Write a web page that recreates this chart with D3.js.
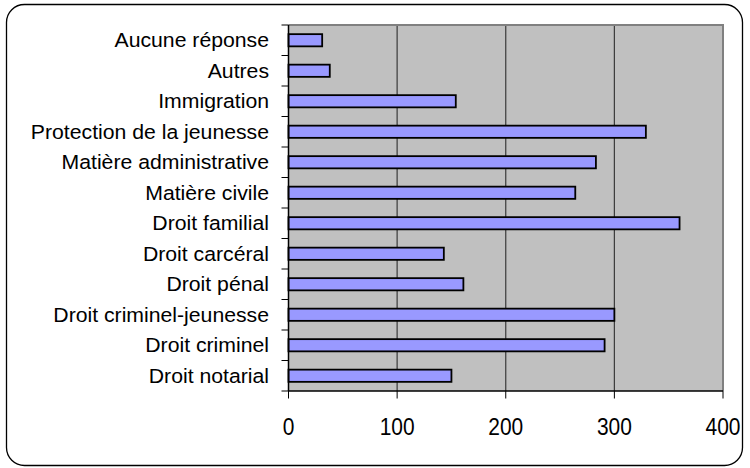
<!DOCTYPE html>
<html>
<head>
<meta charset="utf-8">
<script src="https://cdn.jsdelivr.net/npm/d3@7"></script>
<style>
  html, body { margin: 0; padding: 0; background: #ffffff; }
  svg { display: block; }
  text { font-family: "Liberation Sans", Arial, sans-serif; fill: #000; }
</style>
</head>
<body>
<svg id="chart" width="750" height="468"></svg>
<script>
// Data (top to bottom as drawn)
const categories = [
  "Aucune réponse",
  "Autres",
  "Immigration",
  "Protection de la jeunesse",
  "Matière administrative",
  "Matière civile",
  "Droit familial",
  "Droit carcéral",
  "Droit pénal",
  "Droit criminel-jeunesse",
  "Droit criminel",
  "Droit notarial"
];
const values = [31, 38, 154, 329, 283, 264, 360, 143, 161, 300, 291, 150];
const tickValues = [0, 100, 200, 300, 400];

const svg = d3.select("#chart");

// Outer rounded frame
svg.append("rect")
  .attr("x", 6.5).attr("y", 4.5)
  .attr("width", 736).attr("height", 461)
  .attr("rx", 18).attr("ry", 18)
  .attr("fill", "#fff")
  .attr("stroke", "#000")
  .attr("stroke-width", 1.3);

const plot = { left: 288.5, top: 25, right: 723, bottom: 391 };

const x = d3.scaleLinear()
  .domain([0, 400])
  .range([plot.left, plot.right]);

const y = d3.scaleBand()
  .domain(categories)
  .range([plot.top, plot.bottom])
  .paddingInner(0.6)
  .paddingOuter(0.3);

// Plot background
svg.append("rect")
  .attr("x", plot.left).attr("y", plot.top)
  .attr("width", plot.right - plot.left)
  .attr("height", plot.bottom - plot.top)
  .attr("fill", "#c0c0c0");

// Gridlines
svg.append("g")
  .selectAll("line")
  .data(tickValues.filter(d => d > 0 && d < 400))
  .join("line")
  .attr("x1", d => x(d)).attr("x2", d => x(d))
  .attr("y1", plot.top).attr("y2", plot.bottom)
  .attr("stroke", "#3a3a3a")
  .attr("stroke-width", 1.2);

// Plot border (top & right gray)
svg.append("path")
  .attr("d", `M${plot.left},${plot.top}H${plot.right}V${plot.bottom}`)
  .attr("fill", "none")
  .attr("stroke", "#808080")
  .attr("stroke-width", 2);

// Bars
svg.append("g")
  .selectAll("rect")
  .data(categories.map((c, i) => ({ c, v: values[i] })))
  .join("rect")
  .attr("x", x(0))
  .attr("y", d => y(d.c))
  .attr("width", d => x(d.v) - x(0))
  .attr("height", y.bandwidth())
  .attr("fill", "#9999ff")
  .attr("stroke", "#000")
  .attr("stroke-width", 1.8);

// Left axis line and ticks at category boundaries
const step = y.step();
const boundaries = d3.range(categories.length + 1).map(i => plot.top + i * step);
const gLeft = svg.append("g");
gLeft.append("line")
  .attr("x1", plot.left).attr("x2", plot.left)
  .attr("y1", plot.top).attr("y2", plot.bottom)
  .attr("stroke", "#000").attr("stroke-width", 1.5);
gLeft.selectAll("line.tick")
  .data(boundaries)
  .join("line")
  .attr("class", "tick")
  .attr("x1", plot.left - 7).attr("x2", plot.left)
  .attr("y1", d => d).attr("y2", d => d)
  .attr("stroke", "#000").attr("stroke-width", 1);

// Category labels (horizontally stretched like the original)
gLeft.selectAll("text")
  .data(categories)
  .join("text")
  .attr("transform", d => `translate(269,${y(d) + y.bandwidth() / 2 + 6.8}) scale(1.1,1)`)
  .attr("text-anchor", "end")
  .attr("font-size", 19.3)
  .text(d => d);

// Bottom axis
const gBottom = svg.append("g");
gBottom.append("line")
  .attr("x1", plot.left).attr("x2", plot.right)
  .attr("y1", plot.bottom).attr("y2", plot.bottom)
  .attr("stroke", "#000").attr("stroke-width", 1.5);
gBottom.selectAll("line.tick")
  .data(tickValues)
  .join("line")
  .attr("class", "tick")
  .attr("x1", d => x(d)).attr("x2", d => x(d))
  .attr("y1", plot.bottom).attr("y2", plot.bottom + 7.5)
  .attr("stroke", "#000").attr("stroke-width", 1);
gBottom.selectAll("text")
  .data(tickValues)
  .join("text")
  .attr("transform", d => `translate(${x(d)},435) scale(0.91,1)`)
  .attr("text-anchor", "middle")
  .attr("font-size", 23)
  .text(d => d);
</script>
</body>
</html>
